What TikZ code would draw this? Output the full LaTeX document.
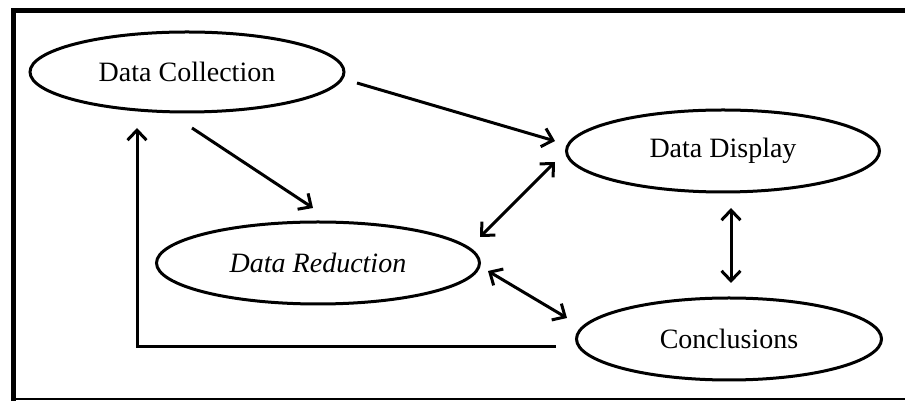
\documentclass[tikz,border=0pt]{standalone}
\usepackage{fontspec}
\setmainfont{Liberation Serif}
\usetikzlibrary{shapes.geometric,arrows.meta,calc}
\begin{document}
\begin{tikzpicture}[x=1pt,y=1pt,
  oval/.style={ellipse,draw,line width=3pt,inner sep=0pt,font=\fontsize{28}{30}\selectfont},
  arr/.style={line width=3pt,-{Straight Barb[length=10pt,width=19pt]}},
  darr/.style={line width=3pt,{Straight Barb[length=10pt,width=19pt]}-{Straight Barb[length=10pt,width=19pt]}}]
\useasboundingbox (0,0) rectangle (905,401);
\clip (0,0) rectangle (905,401);
% frame
\draw[line width=5pt] (13.5,0) -- (13.5,390.5) -- (915,390.5);
\draw[line width=2pt] (13.5,1.5) -- (915,1.5);
% nodes
\node[oval,minimum width=314,minimum height=80] (dc) at (187,329) {Data Collection};
\node[oval,minimum width=313,minimum height=82] (dd) at (723,250) {Data Display};
\node[oval,minimum width=323,minimum height=82] (dr) at (318,138) {\itshape Data Reduction};
\node[oval,minimum width=305,minimum height=82] (cc) at (729,62) {Conclusions};
% connectors
\draw[arr] ($(dc)+(170,-11)$) -- ($(dd)+(-168,10)$);
\draw[arr] ($(dc)+(5,-56)$) -- ($(dr)+(-5,55)$);
\draw[darr] ($(dr)+(162,26)$) -- ($(dd)+(-168,-11)$);
\draw[darr] ($(dr)+(170,-8)$) -- ($(cc)+(-162,21)$);
\draw[darr] ($(dd)+(8,-57)$) -- ($(cc)+(2,56)$);
\coordinate (fb) at ($(cc)+(-173,-8)$);
\draw[arr] (fb) -- (137,54) -- ($(dc)+(-50,-56)$);
\end{tikzpicture}
\end{document}
